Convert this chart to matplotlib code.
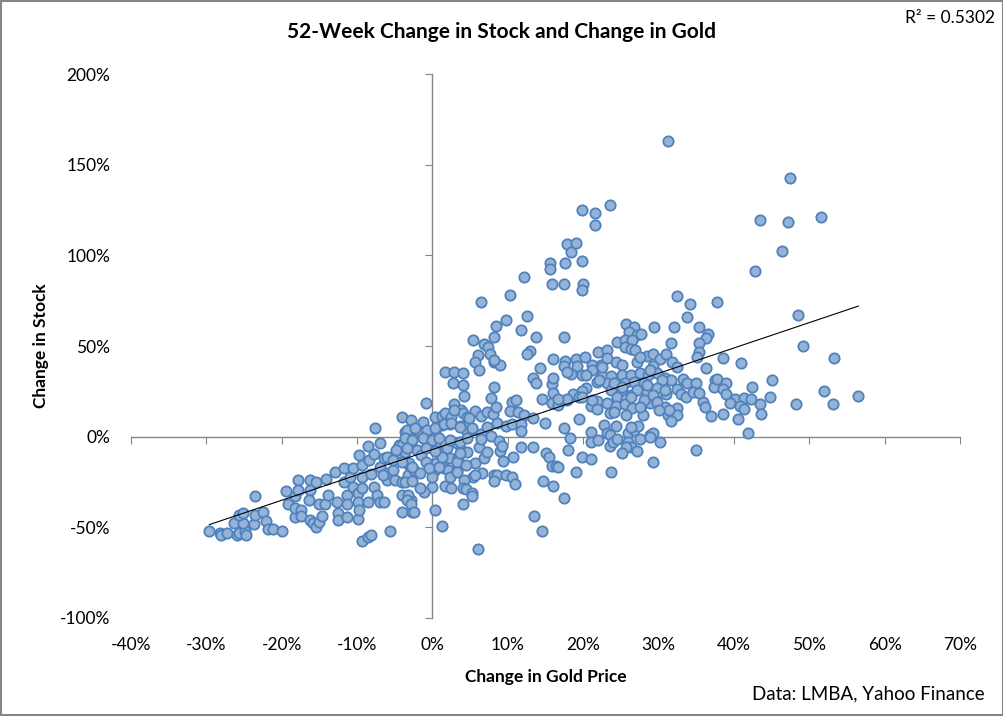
import numpy as np
import matplotlib
matplotlib.use("Agg")
import matplotlib.pyplot as plt
from matplotlib.patches import Rectangle
from matplotlib.ticker import FuncFormatter

plt.rcParams['font.family'] = ['Lato', 'DejaVu Sans']
plt.rcParams['axes.unicode_minus'] = False

# 52-week change in gold price (%)
gold_chg = [
    -29.6, -28.2, -28.1, -27.2, -26.0, -25.7, -24.9, -24.7, -26.3, -25.2,
    -25.7, -25.2, -23.7, -23.5, -22.5, -22.1, -21.8, -21.2, -20.0, -23.5,
    -19.4, -19.2, -18.3, -17.8, -17.8, -18.3, -18.3, -17.5, -17.5, -16.3,
    -16.3, -15.5, -16.4, -16.3, -15.9, -15.5, -15.1, -15.1, -14.7, -14.2,
    -13.8, -14.1, -13.0, -12.7, -12.6, -12.6, -11.7, -11.8, -11.4, -11.4,
    -11.4, -11.0, -10.5, -10.5, -9.9, -9.9, -9.9, -9.7, -9.7, -9.3,
    -9.3, -9.3, -8.6, -8.6, -8.4, -8.1, -7.7, -7.7, -7.6, -7.4,
    -7.0, -6.9, -7.0, -6.4, -6.4, -6.1, -6.0, -5.4, -5.2, -5.0,
    -4.8, -4.4, -4.1, -4.0, -4.1, -4.0, -4.0, -3.7, -3.7, -3.3,
    -3.1, -2.9, -2.8, -2.7, -3.3, -9.3, -8.6, -8.1, -5.6,
    # around zero
    2.7, 4.0, 4.2, 8.1, -0.9, 2.8, -1.3, 0.4, 1.2, 1.7,
    2.5, 3.8, 4.0, 4.6, 5.6, 6.5, 7.2, 8.0, 8.4, 7.8,
    10.6, 11.1, 10.3, 11.3, 12.1, 13.3, 14.5, 15.9, 16.0, 15.9,
    16.6, 17.8, 14.9, 17.5, 8.5, 9.8, 10.6, 11.8, 11.7, -3.4,
    -2.0, 0.4, 1.3, 2.3, 3.7, 4.4, 5.3, 6.5, 7.2, 7.7,
    8.8, 9.0, 9.2, 9.4, 10.7, 11.7, 13.3, 15.1, 15.4, 15.8,
    16.4, 16.7, 18.0, -4.0, -3.7, -2.8, -2.0, -1.5, -0.7, -0.1,
    0.5, 0.9, 1.9, 2.3, 3.2, 3.4, 3.8, 4.6, 5.6, 6.2,
    6.5, 6.8, 7.3, 6.6, 8.2, 8.6, 9.7, 10.5, 11.0, 8.2,
    5.4, 4.2, 4.1, 4.5, 5.2, 5.3, 4.0, 0.3, 1.3, 6.1,
    13.5, 14.5, 14.6, 16.0, 17.5, -2.5, -1.6, 0.0, -1.1, -1.6,
    -3.7, -2.7, -3.4, -2.8, -2.4, 0.3, 1.5, 2.0, 0.0, 1.6,
    2.4, 0.5, 3.2, 3.2, 4.5, -3.1, -0.8, -0.4, 2.3, 1.3,
    # dense core near the origin
    2.9, 4.9, -3.4, -2.3, -0.7, 0.4, 1.5, 2.5, 3.6, 5.2,
    -3.7, -2.7, -1.3, -0.1, 0.9, 2.3, 3.6, 4.6, -4.8, -3.4,
    -0.8, 0.3, 3.6, -6.1, -5.3, -4.0, -2.7, 0.9, 3.3, 5.6,
    -6.6,
    # 5-18% gold, strong stock
    6.5, 12.6, 9.8, 8.4, 11.7, 8.1, 5.4, 13.7, 17.5, 6.9,
    7.4, 6.0, 7.6, 5.7, 8.2, 9.0, 8.1, 6.2, 13.0, 12.5,
    1.7, 2.8, 4.1, 14.3, 13.4, 13.8, 16.0, 17.6, 17.4, 16.0,
    # top outliers
    31.3, 23.5, 19.8, 21.6, 21.5, 17.8, 19.0, 18.4, 15.6, 15.6,
    17.6, 19.9, 12.2, 15.8, 17.5, 20.0, 19.8, 10.3, 32.4, 34.2,
    37.7, 33.8, 47.5, 43.4, 47.2, 51.6, 46.4, 42.8,
    # 18-38% gold cluster
    25.7, 26.8, 29.4, 32.0, 35.3, 26.1, 27.2, 36.6, 36.3, 24.5,
    25.5, 26.5, 25.6, 26.4, 26.9, 31.7, 35.3, 35.4, 21.9, 23.1,
    19.0, 20.2, 19.2, 21.2, 22.4, 24.4, 25.2, 27.2, 28.4, 29.3,
    30.2, 31.0, 31.8, 35.1, 36.3, 32.4, 29.2, 18.4, 19.9, 21.2,
    22.5, 23.7, 25.1, 26.3, 27.5, 28.6, 29.8, 30.8, 31.6, 21.8,
    23.2, 24.4, 25.5, 26.8, 28.1, 30.4, 33.3, 33.8, 35.0, 37.5,
    37.3, 20.4, 19.8, 18.6, 19.5, 17.9, 16.6, 23.7, 25.1, 26.4,
    27.2, 28.4, 29.8, 31.0, 32.5, 33.0, 33.6, 34.6, 24.5, 25.7,
    21.8, 23.1, 21.1, 21.8, 24.4, 25.5, 26.5, 27.7, 28.8, 29.7,
    30.8, 32.4, 35.9, 36.1, 23.6, 24.1, 25.7, 27.9, 31.2, 32.4,
    31.7, 37.0, 19.5, 22.8, 24.3, 21.1, 23.2, 23.5, 25.9, 26.8,
    27.3, 26.4, 28.8, 29.2, 18.3, 21.1, 22.0, 23.5, 23.9, 24.5,
    25.9, 26.4, 25.7, 27.5, 28.9, 30.2, 25.2, 27.2, 35.0, 19.8,
    21.0, 29.2, 19.1, 23.7,
    27.7, 23.1, 27.5, 17.8, 20.4, 22.5, 28.8, 22.1, 24.1, 25.2,
    28.4, 30.8, 19.9, 21.2, 26.4, 28.1, 29.2, 29.8, 31.4, 27.5,
    30.1,
    # right side
    48.5, 49.2, 53.3, 38.5, 41.0, 37.7, 39.0, 38.5, 38.9, 42.4,
    45.1, 51.9, 56.5, 44.8, 35.4, 40.2, 41.4, 42.3, 39.5, 40.8,
    41.4, 43.5, 48.3, 53.1, 38.6, 40.6, 43.6, 41.9,
]

# 52-week change in the stock (%), same order
stock_chg = [
    -52.3, -53.4, -54.5, -52.9, -54.5, -52.9, -52.3, -54.0, -47.4, -47.4,
    -43.0, -41.9, -47.9, -43.0, -41.3, -46.3, -50.7, -50.7, -51.8, -33.0,
    -29.7, -36.9, -33.0, -23.7, -29.2, -44.1, -39.1, -40.2, -43.5, -23.7,
    -29.2, -24.8, -34.7, -45.7, -47.4, -49.6, -46.8, -37.4, -43.5, -36.9,
    -31.9, -23.1, -19.3, -36.3, -41.9, -45.7, -17.1, -24.8, -31.9, -37.4,
    -44.1, -22.0, -17.1, -27.5, -30.8, -36.3, -45.2, -40.2, -9.9, -15.4,
    -22.0, -28.1, -5.0, -35.8, -12.7, -20.4, -9.4, -27.5, 5.0, -31.9,
    -3.3, -16.5, -35.8, -11.6, -35.8, -23.7, -19.8, -11.0, -18.2, -23.7,
    -8.3, -4.4, -11.0, -24.8, 11.0, -41.3, -31.9, 2.8, -4.4, -20.9,
    -15.4, 9.4, -34.7, -41.3, -31.9, -57.8, -55.1, -54.5, -51.8,
    # around zero
    29.7, 28.6, 22.6, 27.5, 18.7, 18.2, 8.3, 11.0, 11.6, 13.2,
    11.0, 14.9, 13.2, 11.0, 14.3, 11.6, 13.8, 12.7, 16.5, 21.5,
    19.3, 20.4, 14.3, 13.8, 12.1, 10.5, 20.9, 29.2, 24.2, 18.7,
    17.6, 20.4, 7.7, 5.0, 7.7, 6.1, 7.2, 7.2, 3.3, 3.3,
    3.9, 3.3, 6.6, 7.2, 6.1, 3.9, 4.4, 1.7, 5.5, 0.6,
    -2.2, -7.7, -5.0, -13.2, -11.0, -5.5, -5.5, -8.8, -11.0, -16.0,
    -16.0, -16.5, -7.2, -4.4, -8.3, -2.8, -7.2, -9.9, -2.8, -5.5,
    -2.8, -8.3, -6.1, -11.6, -3.3, -11.6, -7.2, -8.3, -14.3, -5.5,
    -1.1, -11.6, -8.3, -19.8, -20.9, -20.9, -20.9, -22.0, -25.9, -24.2,
    -22.0, -23.7, -28.1, -28.6, -30.8, -33.0, -36.9, -40.2, -49.0, -62.2,
    -43.5, -52.3, -24.2, -27.0, -34.1, -18.2, -19.8, -27.5, -30.3, -28.1,
    -24.8, -24.2, -34.7, -37.4, -41.3, -18.2, -17.1, -18.2, -22.0, -27.0,
    -28.1, -14.3, -18.2, -13.8, -15.4, -14.3, -13.8, -17.1, -22.0, -11.0,
    # dense core near the origin
    14.9, 10.5, 3.9, 5.0, 3.9, 5.0, 7.2, 7.7, 5.5, 5.0,
    -0.6, -1.7, -0.6, -1.7, -0.6, -1.7, -2.8, -0.6, -7.2, -6.1,
    -6.1, -7.7, -8.8, -11.0, -12.7, -13.8, -16.5, -16.5, -19.3, -20.9,
    -20.9,
    # 5-18% gold, strong stock
    74.3, 66.6, 64.4, 61.1, 58.9, 55.1, 53.4, 55.1, 55.1, 51.2,
    49.6, 45.2, 45.7, 41.3, 41.3, 39.6, 42.4, 36.9, 47.4, 45.7,
    35.8, 35.8, 35.2, 38.0, 32.5, 29.7, 43.0, 41.9, 39.1, 32.5,
    # top outliers
    163.0, 127.8, 125.0, 123.3, 116.7, 106.3, 106.8, 101.9, 95.8, 92.5,
    95.8, 96.9, 88.1, 84.3, 84.3, 84.3, 80.9, 78.2, 77.6, 73.2,
    74.3, 66.1, 142.6, 119.5, 118.4, 121.1, 102.4, 91.4,
    # 18-38% gold cluster
    62.2, 60.6, 60.6, 60.6, 60.6, 57.8, 56.2, 56.7, 54.5, 52.3,
    53.4, 53.4, 49.6, 48.5, 47.9, 51.8, 51.8, 46.8, 46.8, 47.9,
    43.0, 44.1, 39.1, 39.6, 39.6, 41.3, 39.6, 41.3, 44.6, 45.7,
    43.0, 45.7, 41.3, 44.1, 38.0, 38.5, 39.1, 34.7, 34.1, 36.9,
    33.6, 33.6, 34.1, 34.1, 35.2, 34.1, 35.2, 32.5, 31.4, 30.3,
    29.7, 28.6, 29.7, 30.3, 29.7, 31.4, 31.9, 29.7, 29.7, 31.4,
    27.5, 27.0, 25.3, 23.7, 22.0, 20.9, 20.9, 25.9, 24.2, 23.1,
    25.9, 24.8, 27.0, 23.7, 26.4, 23.7, 22.0, 24.8, 22.0, 20.9,
    19.8, 18.7, 17.1, 15.4, 17.1, 18.2, 16.0, 17.1, 18.7, 20.4,
    16.5, 16.0, 19.3, 16.5, 13.2, 13.8, 12.1, 12.1, 12.1, 12.1,
    8.8, 11.6, 9.9, 6.6, 6.1, 2.8, 2.2, 1.1, 2.2, 3.9,
    6.1, 5.5, 1.1, 2.2, -0.6, -2.8, -1.7, -5.0, -2.8, -1.1,
    -2.8, -5.5, -5.5, -1.1, 0.0, -2.8, -8.8, -7.7, -7.2, -11.0,
    -12.1, -13.8, -19.3, -19.3,
    56.7, 43.5, 44.1, 35.8, 34.1, 38.5, 36.9, 31.4, 29.7, 27.5,
    28.6, 25.9, 22.0, 20.4, 22.0, 20.4, 23.1, 19.3, 14.9, 16.5,
    14.9,
    # right side
    67.2, 50.1, 43.5, 43.5, 40.7, 31.9, 29.7, 26.4, 23.7, 27.5,
    31.4, 25.3, 22.6, 22.0, 24.2, 20.9, 21.5, 20.9, 18.7, 17.1,
    15.4, 18.2, 18.2, 18.2, 12.7, 9.9, 12.7, 2.2,
]

x_ticks = list(range(-40, 71, 10))
y_ticks = list(range(-100, 201, 50))

title = "52-Week Change in Stock and Change in Gold"
r2_text = "R² = 0.5302"
source = "Data: LMBA, Yahoo Finance"

pct = FuncFormatter(lambda v, _: f"{v:.0f}%")
axis_grey = '#868686'

fig = plt.figure(figsize=(10.04, 7.16), dpi=100)
ax = fig.add_axes([0.1305, 0.1369, 0.8257, 0.7597])
ax.set_xlim(-40, 70)
ax.set_ylim(-100, 200)

ax.scatter(gold_chg, stock_chg, s=55, c='#95B3D7', edgecolors='#4F81BD',
           linewidths=1.3, zorder=3)

# linear trendline like Excel's
coef = np.polyfit(gold_chg, stock_chg, 1)
xs = np.array([min(gold_chg), max(gold_chg)])
ax.plot(xs, np.polyval(coef, xs), color='black', lw=0.8, zorder=4)

# axes cross at zero
for side in ['top', 'right']:
    ax.spines[side].set_visible(False)
for side in ['left', 'bottom']:
    ax.spines[side].set_position(('data', 0))
    ax.spines[side].set_color(axis_grey)
    ax.spines[side].set_linewidth(1.0)
ax.set_xticks(x_ticks)
ax.set_yticks(y_ticks)
ax.tick_params(direction='out', length=5, color=axis_grey,
               labelbottom=False, labelleft=False)

# tick labels sit at the low edge
secx = ax.secondary_xaxis(0)
secx.set_xticks(x_ticks)
secx.xaxis.set_major_formatter(pct)
secx.spines['bottom'].set_visible(False)
secx.tick_params(length=0, pad=14, labelsize=12.5)
secx.set_xlabel("Change in Gold Price", fontsize=12.5, fontweight='bold', labelpad=11)

secy = ax.secondary_yaxis(0)
secy.set_yticks(y_ticks)
secy.yaxis.set_major_formatter(pct)
secy.spines['left'].set_visible(False)
secy.tick_params(length=0, pad=15, labelsize=12.5)
secy.set_ylabel("Change in Stock", fontsize=12.5, fontweight='bold', labelpad=8)

fig.text(0.5, 0.955, title, ha='center', va='center', fontsize=15, fontweight='bold')
fig.text(0.991, 0.975, r2_text, ha='right', va='center', fontsize=12.5)
fig.text(0.981, 0.031, source, ha='right', va='center', fontsize=13.5)

fig.patches.append(Rectangle((0.001, 0.0015), 0.998, 0.997, transform=fig.transFigure,
                             fill=False, edgecolor=axis_grey, lw=1.5))

fig.savefig("out.png", dpi=100)
